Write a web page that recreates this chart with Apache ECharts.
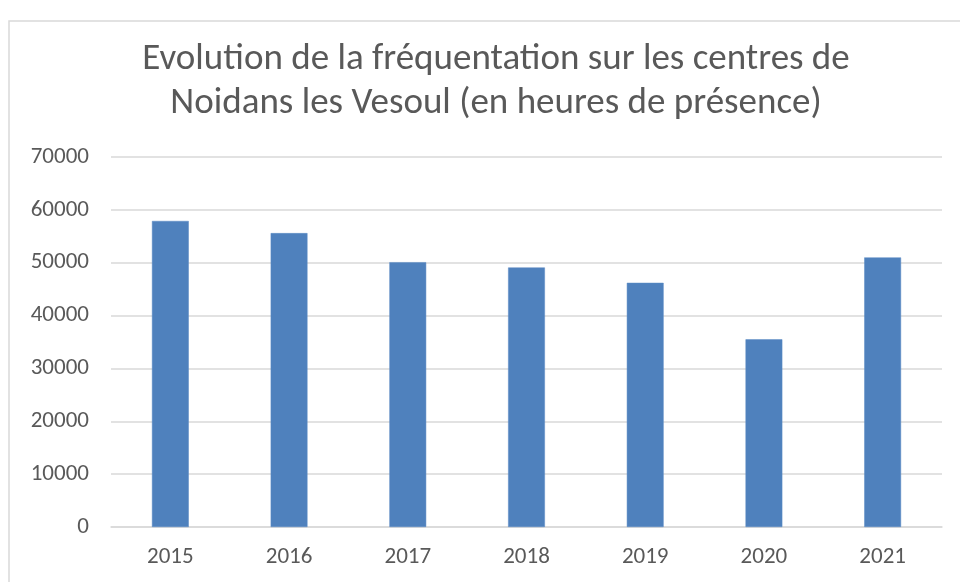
<!DOCTYPE html>
<html>
<head>
<meta charset="utf-8">
<script src="https://cdn.jsdelivr.net/npm/echarts@6/dist/echarts.min.js"></script>
<style>
  body { margin: 0; background: #fff; }
  #chart { width: 960px; height: 582px; }
</style>
</head>
<body>
<div id="chart"></div>
<script>
// données
const years = ["2015", "2016", "2017", "2018", "2019", "2020", "2021"];
const heures = [57900, 55600, 50100, 49100, 46200, 35500, 51000];
const yTicks = [0, 10000, 20000, 30000, 40000, 50000, 60000, 70000];

const fontFam = "Carlito, 'Liberation Sans Narrow', 'Noto Sans', sans-serif";
const myChart = echarts.init(document.getElementById("chart"));

const option = {
  animation: false,
  title: {
    text: "Evolution de la fréquentation sur les centres de\nNoidans les Vesoul (en heures de présence)",
    left: 491,
    top: 33,
    textAlign: "center",
    textStyle: {
      color: "#595959",
      fontFamily: fontFam,
      fontWeight: "normal",
      fontSize: 37,
      lineHeight: 44,
    },
  },
  graphic: [
    {
      type: "rect",
      shape: { x: 9, y: 21, width: 960, height: 600 },
      style: { fill: "none", stroke: "#d9d9d9", lineWidth: 1.5 },
      silent: true,
    },
  ],
  grid: {
    left: 111,
    right: 18,
    top: 157,
    bottom: 55,
  },
  xAxis: {
    type: "category",
    data: years,
    axisLine: { show: true, lineStyle: { color: "#d9d9d9", width: 1.5 } },
    axisTick: { show: false },
    axisLabel: {
      color: "#595959",
      fontFamily: fontFam,
      fontSize: 23,
      margin: 19,
    },
  },
  yAxis: {
    type: "value",
    min: yTicks[0],
    max: yTicks[yTicks.length - 1],
    interval: 10000,
    axisLine: { show: false },
    axisTick: { show: false },
    axisLabel: {
      color: "#595959",
      fontFamily: fontFam,
      fontSize: 23,
      margin: 22,
      formatter: (v) => String(v),
    },
    splitLine: { lineStyle: { color: "#d9d9d9", width: 1.5 } },
  },
  series: [
    {
      type: "bar",
      data: heures,
      barWidth: "31%",
      itemStyle: { color: "#4f81bd", borderColor: "#5b8ac4", borderWidth: 0.5 },
    },
  ],
};

myChart.setOption(option);
</script>
</body>
</html>
